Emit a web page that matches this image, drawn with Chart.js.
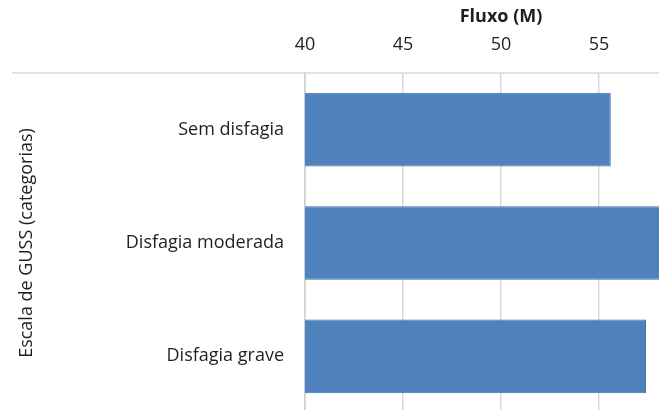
<!DOCTYPE html>
<html>
<head>
<meta charset="utf-8">
<script src="https://cdn.jsdelivr.net/npm/chart.js@4"></script>
<style>
  html, body { margin: 0; padding: 0; background: #ffffff; overflow: hidden; }
  #wrap { width: 659px; height: 410px; overflow: hidden; position: relative; }
  canvas { display: block; }
</style>
</head>
<body>
<div id="wrap"><canvas id="c" width="720" height="413"></canvas></div>
<script>
// GUSS categories and mean flow (M)
const categories = ['Sem disfagia', 'Disfagia moderada', 'Disfagia grave'];
const fluxo = [55.6, 58.4, 57.4];
const xMin = 40;
const xMax = 60;
const xStep = 5;

const FONT = '"Open Sans", "Liberation Sans", sans-serif';

// Line along the top of the plot that runs under the category labels too
const topRule = {
  id: 'topRule',
  beforeDatasetsDraw(chart) {
    const { ctx, chartArea } = chart;
    ctx.save();
    ctx.strokeStyle = '#d9d9d9';
    ctx.lineWidth = 1.5;
    ctx.beginPath();
    ctx.moveTo(12, chartArea.top);
    ctx.lineTo(chartArea.right, chartArea.top);
    ctx.stroke();
    ctx.restore();
  }
};

new Chart(document.getElementById('c'), {
  type: 'bar',
  data: {
    labels: categories,
    datasets: [{
      data: fluxo,
      backgroundColor: '#4f81bd',
      borderColor: '#3c6ea8',
      borderWidth: 1,
      categoryPercentage: 1,
      barPercentage: 0.65
    }]
  },
  options: {
    indexAxis: 'y',
    responsive: false,
    animation: false,
    layout: { padding: { left: 12, right: 23, top: 0, bottom: 0 } },
    plugins: { legend: { display: false }, tooltip: { enabled: false } },
    scales: {
      x: {
        position: 'top',
        min: xMin,
        max: xMax,
        ticks: {
          stepSize: xStep,
          color: '#1f1f1f',
          font: { family: FONT, size: 18 },
          padding: 17
        },
        grid: { color: '#d9d9d9', lineWidth: 1.5, drawTicks: false },
        border: { display: false },
        title: {
          display: true,
          text: 'Fluxo (M)',
          color: '#1f1f1f',
          font: { family: FONT, size: 18, weight: 'bold' },
          padding: { top: 6, bottom: 0 }
        },
        afterFit(scale) {
          scale.height = 73;
          scale.paddingLeft = 0;
          scale.paddingRight = 0;
        }
      },
      y: {
        position: 'left',
        ticks: {
          color: '#1f1f1f',
          font: { family: FONT, size: 18 },
          padding: 21
        },
        grid: { display: false, drawTicks: false },
        border: { display: true, color: '#d0d0d0', width: 1.5 },
        title: {
          display: true,
          text: 'Escala de GUSS (categorias)',
          color: '#1f1f1f',
          font: { family: FONT, size: 18 },
          padding: { top: 4, bottom: 4 }
        },
        afterFit(scale) {
          scale.width = 293;
          scale.paddingTop = 0;
          scale.paddingBottom = 0;
        }
      }
    }
  },
  plugins: [topRule]
});
</script>
</body>
</html>
